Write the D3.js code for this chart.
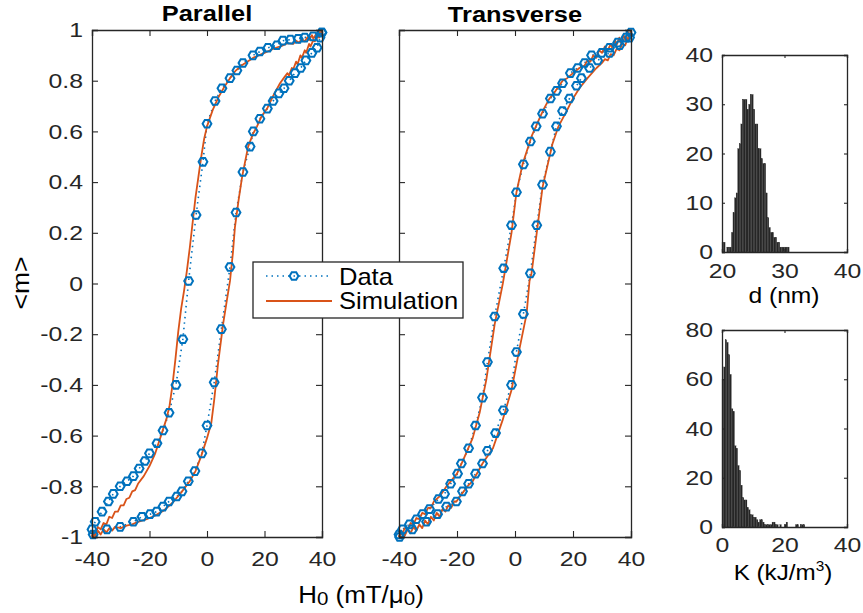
<!DOCTYPE html>
<html><head><meta charset="utf-8">
<script src="https://cdn.jsdelivr.net/npm/d3@7"></script>
<style>body{margin:0;background:#fff} text{font-family:"Liberation Sans",Arial,Helvetica,sans-serif}</style>
</head><body><svg id="c" width="863" height="613"></svg>
<script>
// ---------- data ----------
const xTicks = [-40, -20, 0, 20, 40];
const yTicks = [-1, -0.8, -0.6, -0.4, -0.2, 0, 0.2, 0.4, 0.6, 0.8, 1];

const parallelDataDown = [[39.9,0.99],[36.9,0.975],[34,0.97],[31.7,0.965],[29,0.962],[26.4,0.958],[24.3,0.94],[21.2,0.93],[18.4,0.915],[16,0.90],[12.5,0.87],[10.4,0.84],[8,0.81],[5.2,0.77],[2.8,0.72],[0,0.63],[-1.4,0.48],[-3.8,0.27],[-6.4,0.01],[-8.4,-0.22],[-10.8,-0.40],[-13.2,-0.51],[-15.3,-0.58],[-17.4,-0.63],[-20,-0.67],[-21.6,-0.70],[-23.6,-0.73],[-25.6,-0.76],[-27.8,-0.78],[-30.2,-0.80],[-32.6,-0.83],[-34.3,-0.86],[-36.5,-0.90],[-38.9,-0.94],[-40,-0.97]];
const parallelDataUp = [[-39.6,-0.99],[-34.8,-0.97],[-30.2,-0.96],[-25.6,-0.94],[-22.6,-0.92],[-19.8,-0.91],[-17.5,-0.90],[-15.3,-0.88],[-13.2,-0.86],[-10.5,-0.84],[-8.7,-0.82],[-6.5,-0.78],[-4.2,-0.74],[-1.8,-0.67],[0,-0.56],[2.5,-0.39],[5,-0.18],[8,0.065],[10.1,0.28],[12.5,0.44],[15,0.54],[16.1,0.60],[18.4,0.65],[21,0.69],[23,0.72],[25,0.75],[26.8,0.77],[28.6,0.80],[30.6,0.83],[32.6,0.85],[34.4,0.88],[36.5,0.91],[38.3,0.93],[39.3,0.97],[40,0.99]];
const parallelSimDown = [[40,1.0],[39.5,0.975],[39,0.99],[38.5,0.97],[38,0.985],[37,0.965],[36.5,0.98],[35.5,0.96],[35,0.972],[34,0.955],[33,0.965],[32,0.95],[31,0.958],[30,0.945],[28,0.948],[26,0.937],[24,0.93],[22,0.92],[20,0.91],[18,0.9],[16,0.89],[14,0.875],[12,0.86],[10,0.84],[8,0.81],[6,0.775],[4,0.735],[2,0.685],[0,0.62],[-1,0.57],[-2,0.50],[-3,0.42],[-4,0.34],[-5,0.24],[-6,0.14],[-7,0.05],[-8,-0.03],[-9,-0.10],[-10,-0.19],[-11,-0.30],[-12,-0.40],[-13,-0.48],[-14,-0.53],[-16,-0.60],[-18,-0.67],[-20,-0.72],[-22,-0.76],[-24,-0.79],[-25,-0.815],[-26,-0.82],[-27,-0.845],[-28,-0.85],[-29,-0.875],[-30,-0.875],[-31,-0.9],[-32,-0.9],[-33,-0.925],[-34,-0.92],[-35,-0.95],[-36,-0.945],[-37,-0.97],[-38,-0.96],[-38.5,-0.985],[-39,-0.975],[-39.5,-1.0],[-40,-0.99]];
const parallelSimUp = [[-40,-1.0],[-39.5,-0.98],[-39,-0.995],[-38,-0.975],[-37,-0.99],[-36,-0.97],[-35,-0.982],[-34,-0.965],[-33,-0.975],[-32,-0.96],[-30,-0.965],[-28,-0.955],[-26,-0.95],[-24,-0.94],[-21,-0.93],[-18,-0.915],[-15,-0.895],[-12,-0.865],[-9,-0.825],[-6,-0.78],[-4,-0.74],[-2,-0.68],[0,-0.61],[1.5,-0.55],[2.5,-0.46],[3.8,-0.32],[5.6,-0.16],[7,-0.06],[8,0.01],[9,0.12],[9.7,0.22],[11,0.33],[12.2,0.42],[14.3,0.54],[16,0.59],[17.4,0.62],[19,0.66],[20.9,0.69],[23,0.74],[25.4,0.79],[27,0.815],[28,0.83],[28.5,0.82],[29.5,0.85],[30,0.845],[31,0.875],[31.5,0.865],[32.5,0.9],[33,0.89],[34,0.92],[34.5,0.91],[35.5,0.945],[36,0.935],[37,0.96],[37.5,0.955],[38.5,0.98],[39,0.97],[40,1.0]];

const transverseDataDown = [[40,0.99],[38.3,0.97],[35.4,0.95],[32.6,0.93],[29.9,0.91],[26.4,0.90],[24,0.87],[21.6,0.85],[19.1,0.83],[16.4,0.79],[14.3,0.76],[12.2,0.73],[9.5,0.67],[7.3,0.62],[5.3,0.56],[2.9,0.47],[0.5,0.36],[-1.2,0.23],[-3.9,0.06],[-7,-0.13],[-9.5,-0.31],[-11.2,-0.45],[-13.6,-0.56],[-16,-0.65],[-18.5,-0.71],[-19.8,-0.75],[-22.2,-0.79],[-24.3,-0.83],[-26.4,-0.85],[-29.5,-0.89],[-31.9,-0.91],[-34,-0.93],[-36.4,-0.95],[-38.8,-0.97],[-40,-0.99]];
const transverseDataUp = [[-39.8,-1.0],[-35.4,-0.97],[-30.5,-0.94],[-26.7,-0.91],[-23.6,-0.88],[-20.2,-0.86],[-18.1,-0.82],[-16,-0.79],[-13.6,-0.75],[-11.2,-0.71],[-9.5,-0.66],[-6.7,-0.59],[-4,-0.50],[-1.2,-0.40],[0.5,-0.27],[2.9,-0.12],[5.3,0.04],[7.5,0.23],[9.5,0.39],[12.2,0.52],[14.3,0.62],[16.4,0.68],[18.8,0.73],[21.2,0.78],[22.9,0.81],[25.7,0.85],[28.5,0.88],[32.6,0.91],[36.1,0.94],[39.5,0.97]];
const transverseSimDown = [[40,1.0],[39.5,0.97],[39,0.99],[38,0.96],[37.5,0.98],[36.5,0.95],[36,0.97],[35,0.94],[34.5,0.96],[33.5,0.93],[33,0.945],[32,0.92],[31,0.935],[30,0.91],[29,0.92],[28,0.89],[27,0.9],[26,0.875],[25,0.88],[24,0.86],[22.2,0.85],[20,0.83],[18,0.81],[16.4,0.80],[14,0.76],[11.9,0.73],[10,0.69],[8.4,0.65],[5.7,0.58],[2.6,0.47],[0.5,0.36],[-1.2,0.20],[-4.2,0.0],[-7,-0.16],[-9.9,-0.38],[-12.2,-0.51],[-14.6,-0.61],[-18,-0.70],[-20,-0.75],[-23.6,-0.80],[-26,-0.84],[-28,-0.86],[-29,-0.885],[-30,-0.885],[-31,-0.91],[-32,-0.905],[-33,-0.93],[-34,-0.925],[-35,-0.95],[-36,-0.945],[-37,-0.97],[-38,-0.965],[-39,-0.99],[-39.5,-0.98],[-40,-1.0]];
const transverseSimUp = [[-40,-1.0],[-39,-0.98],[-38,-0.995],[-37,-0.97],[-36,-0.985],[-35,-0.96],[-34,-0.975],[-33,-0.95],[-32,-0.965],[-31,-0.935],[-30,-0.95],[-29,-0.92],[-28,-0.935],[-27,-0.905],[-26,-0.92],[-25,-0.89],[-24,-0.9],[-23,-0.875],[-22,-0.885],[-21,-0.86],[-20.2,-0.86],[-18,-0.825],[-16,-0.795],[-14.6,-0.78],[-11.2,-0.71],[-7.6,-0.65],[-4.3,-0.54],[-1.2,-0.42],[1.5,-0.26],[4,-0.12],[5,0.01],[5.7,0.04],[7.5,0.2],[9.5,0.38],[12.9,0.55],[15,0.62],[17.8,0.68],[20,0.73],[22.2,0.77],[25,0.81],[28.1,0.85],[30,0.87],[31,0.885],[32,0.88],[33,0.905],[34,0.9],[35,0.925],[36,0.92],[37,0.945],[38,0.94],[39,0.97],[39.5,0.96],[40,0.99]];

// histogram of d (nm): bins of 0.25 starting at 20
const dBinStart = 20, dBinWidth = 0.25;
const dCounts = [2,2,0,1,1,1,4,8,11,12,21,22,26,31,31,31,29,30,32,32,29,26,26,21,21,19,18,18,12,7,5,4,4,3,3,2,2,1,1,1,1,1,1];
const dTicksX = [20,30,40], dTicksY = [0,10,20,30,40];
// histogram of K (kJ/m^3): bins of 0.5 starting at 0
const kBinStart = 0, kBinWidth = 0.5;
const kCounts = [60,65,76,75,70,62,48,47,33,32,25,23,17,12,11,11,8,7,5,5,4,4,3,2,3,3,2,1,1,1,1,1,2,2,1,1,0,1,0,0,1,2,0,0,0,0,0,1,1,0,1,1,1,0];
const kTicksX = [0,20,40], kTicksY = [0,20,40,60,80];

// ---------- drawing ----------
const svg = d3.select('#c');
const AX = '#262626', BLUE = '#0072BD', ORANGE = '#D95319';
const FS = 21, SX = 1.18;

function widen(sel, origin, s) {
  sel.style('transform-box','fill-box').style('transform-origin',origin).style('transform',`scaleX(${s||SX})`);
  return sel;
}

function box(g, x, y, xt, yt, showYLabels, tl, fs, fmtY, padB) {
  const [x0,x1] = x.range(), [y0,y1] = y.range();
  const b = g.append('g').attr('transform',`translate(0,${y0})`).call(d3.axisBottom(x).tickValues(xt).tickSize(-tl).tickPadding(padB).tickFormat(d=>d<0?'-'+Math.abs(d):d));
  const t = g.append('g').attr('transform',`translate(0,${y1})`).call(d3.axisTop(x).tickValues(xt).tickSize(-tl).tickFormat(''));
  const l = g.append('g').attr('transform',`translate(${x0},0)`).call(d3.axisLeft(y).tickValues(yt).tickSize(-tl).tickPadding(9).tickFormat(showYLabels?fmtY:''));
  const r = g.append('g').attr('transform',`translate(${x1},0)`).call(d3.axisRight(y).tickValues(yt).tickSize(-tl).tickFormat(''));
  [b,t,l,r].forEach(a=>{
    a.select('.domain').attr('stroke',AX).attr('stroke-width',1.3);
    a.selectAll('.tick line').attr('stroke',AX).attr('stroke-width',1.1);
    a.selectAll('.tick text').attr('fill',AX).style('font-size',fs+'px').style('font-family','"Liberation Sans",Arial,sans-serif');
  });
  widen(b.selectAll('.tick text'),'center');
  widen(l.selectAll('.tick text'),'right center');
}

function hexPath(r){
  const pts = d3.range(6).map(i=>{const a=Math.PI/3*i; return [r*Math.cos(a), r*Math.sin(a)];});
  return 'M'+pts.map(p=>p.join(',')).join('L')+'Z';
}

function loopPanel(xr, title, titleY, dataSets, simSets, showY) {
  const x = d3.scaleLinear().domain([-40,40]).range(xr);
  const y = d3.scaleLinear().domain([-1,1]).range([537,30]);
  const g = svg.append('g');
  const line = d3.line().x(d=>x(d[0])).y(d=>y(d[1]));
  dataSets.forEach(s=>{
    g.append('path').datum(s).attr('d',line).attr('fill','none').attr('stroke',BLUE).attr('stroke-width',1.6).attr('stroke-dasharray','1.5,4');
  });
  simSets.forEach(s=>{
    g.append('path').datum(s).attr('d',line).attr('fill','none').attr('stroke',ORANGE).attr('stroke-width',1.8).attr('stroke-linejoin','round');
  });
  const hp = hexPath(4.4);
  dataSets.forEach(s=>{
    g.selectAll(null).data(s).enter().append('path').attr('d',hp)
      .attr('transform',d=>`translate(${x(d[0])},${y(d[1])})`)
      .attr('fill','none').attr('stroke',BLUE).attr('stroke-width',2);
  });
  box(g, x, y, xTicks, yTicks, showY, 6, FS, d=>d<0?'-'+d3.format('')(Math.abs(d)):d3.format('')(d), 14);
  widen(g.append('text').attr('x',(xr[0]+xr[1])/2).attr('y',titleY).attr('text-anchor','middle')
    .style('font-weight','bold').style('font-size','22.5px').attr('fill','#000').text(title),'center',1.13);
}

loopPanel([92,322], 'Parallel', 21, [parallelDataDown, parallelDataUp], [parallelSimDown, parallelSimUp], true);
loopPanel([399,631], 'Transverse', 22.5, [transverseDataDown, transverseDataUp], [transverseSimDown, transverseSimUp], false);

function histPanel(xd, yd, yr, start, w, counts, xt, yt, padB) {
  const x = d3.scaleLinear().domain(xd).range([722,847]);
  const y = d3.scaleLinear().domain(yd).range(yr);
  const g = svg.append('g');
  g.selectAll(null).data(counts).enter().append('rect')
    .attr('x',(d,i)=>x(start+i*w)).attr('width',(d,i)=>x(start+(i+1)*w)-x(start+i*w))
    .attr('y',d=>y(d)).attr('height',d=>y(0)-y(d))
    .attr('fill','#262626').attr('stroke','#3a3a3a').attr('stroke-width',0.2);
  box(g, x, y, xt, yt, true, 3, FS, d=>d, padB);
}
histPanel([20,40],[0,40],[252,55], dBinStart, dBinWidth, dCounts, dTicksX, dTicksY, 11);
histPanel([0,40],[0,80],[527,330], kBinStart, kBinWidth, kCounts, kTicksX, kTicksY, 10);

// axis labels
widen(svg.append('text').attr('x',361).attr('y',603).attr('text-anchor','middle').style('font-size','24px').attr('fill','#000')
  .html('H<tspan font-size="19px" dy="2">0</tspan><tspan dy="-2"> (mT/μ</tspan><tspan font-size="19px" dy="2">0</tspan><tspan dy="-2">)</tspan>'),'center',1.08);
const yl = svg.append('g').attr('transform','translate(29,283) rotate(-90)');
widen(yl.append('text').attr('x',0).attr('y',0).attr('text-anchor','middle').style('font-size','23px').attr('fill','#000').text('<m>'),'center',1.15);
widen(svg.append('text').attr('x',784).attr('y',303).attr('text-anchor','middle').style('font-size','22px').attr('fill','#000').text('d (nm)'),'center',1.12);
widen(svg.append('text').attr('x',783).attr('y',580).attr('text-anchor','middle').style('font-size','22px').attr('fill','#000')
  .html('K (kJ/m<tspan font-size="14px" dy="-9">3</tspan><tspan dy="9">)</tspan>'),'center',1.1);

// legend
const lg = svg.append('g');
lg.append('rect').attr('x',253).attr('y',262).attr('width',210).attr('height',56).attr('fill','#fff').attr('stroke','#262626').attr('stroke-width',1.3);
lg.append('line').attr('x1',266).attr('x2',330).attr('y1',276).attr('y2',276).attr('stroke',BLUE).attr('stroke-width',1.6).attr('stroke-dasharray','1.5,4');
lg.append('path').attr('d',hexPath(4.4)).attr('transform','translate(294,276)').attr('fill','none').attr('stroke',BLUE).attr('stroke-width',2);
lg.append('line').attr('x1',266).attr('x2',332).attr('y1',301).attr('y2',301).attr('stroke',ORANGE).attr('stroke-width',1.8);
widen(lg.append('text').attr('x',339).attr('y',285).style('font-size','23px').attr('fill','#000').text('Data'),'left center',1.11);
widen(lg.append('text').attr('x',339).attr('y',309).style('font-size','23px').attr('fill','#000').text('Simulation'),'left center',1.11);
</script></body></html>
